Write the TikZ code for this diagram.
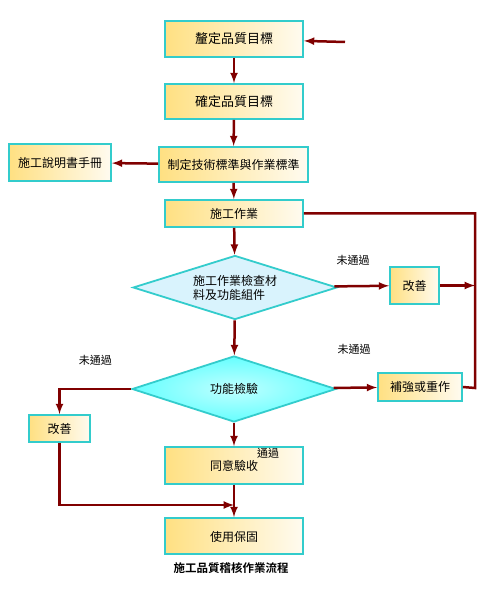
\documentclass[tikz,border=0pt]{standalone}
\usepackage{fontspec}
\setmainfont{Noto Sans CJK TC}[BoldFont={Noto Sans CJK TC Bold}]
\usepackage{tikz}
\usetikzlibrary{shapes.geometric}
\definecolor{flowred}{RGB}{128, 0, 0}
\definecolor{boxcyan}{RGB}{51, 204, 204}
\definecolor{boxyellow}{RGB}{255, 224, 130}
\definecolor{boxpale}{RGB}{255, 251, 240}

\begin{document}
\begin{tikzpicture}[
        x=1pt, y=-1pt,
        font=\fontsize{12}{14}\selectfont,
        box/.style={draw=boxcyan, line width=1.8pt, left color=boxyellow, right color=boxpale, minimum width=138pt, minimum height=36pt, inner sep=2pt},
        check/.style={diamond, draw=boxcyan, line width=1.8pt, shape aspect=3.2, inner sep=0pt, minimum width=204pt, minimum height=64pt},
        arrow/.style={-latex, line width=2.5pt, flowred},
        line/.style={line width=2.5pt, flowred},
        note/.style={text=black, font=\fontsize{11}{13}\selectfont}
    ]
        \useasboundingbox (0,0) rectangle (480,593);

        \node[box, font=\fontsize{13}{15}\selectfont] (goal) at (234,39) {釐定品質目標};
        \node[box, minimum height=35pt, font=\fontsize{13}{15}\selectfont] (confirm) at (234,101.5) {確定品質目標};
        \node[box, minimum width=149pt, minimum height=35pt] (standard) at (233.5,164.5) {制定技術標準與作業標準};
        \node[box, minimum width=102pt, minimum height=37pt] (manual) at (60,162.5) {施工說明書手冊};
        \node[box, minimum height=27pt] (work) at (234,213.5) {施工作業};
        \node[check, fill=cyan!15, align=left] (inspect) at (235,287.5) {施工作業檢查材\\料及功能組件};
        \node[box, minimum width=49pt, minimum height=37pt] (fixa) at (414.5,285.5) {改善};
        \node[check, inner color=cyan!25, outer color=cyan!60, minimum height=66pt] (test) at (234,389) {功能檢驗};
        \node[box, minimum width=84pt, minimum height=28pt] (redo) at (420,387) {補強或重作};
        \node[box, minimum width=61pt, minimum height=27pt] (fixb) at (59.5,428.5) {改善};
        \node[box, minimum height=37pt, text depth=-8pt] (accept) at (234,465.5) {同意驗收};
        \node[box, text depth=-6pt] (warranty) at (234,536) {使用保固};
        \node[font=\fontsize{11.5}{13}\selectfont\bfseries] (title) at (231,568) {施工品質稽核作業流程};

        \coordinate (start) at (345,42);
        \coordinate (back) at (475,388);
        \coordinate (merge) at (234,505);

        \draw[arrow] (start) -- (goal);
        \draw[arrow] (goal) -- (confirm);
        \draw[arrow] (confirm) -- (standard);
        \draw[arrow] (standard) -- (manual);
        \draw[arrow] (standard) -- (work);
        \draw[arrow] (work) -- (inspect);
        \draw[arrow] (inspect) -- node[note, pos=0.34, yshift=26pt] {未通過} (fixa);
        \draw[arrow] (fixa.east) -- (fixa.east -| back);
        \draw[line] (work.east) -| (back) -- (redo.east);
        \draw[arrow] (inspect) -- (test);
        \draw[arrow] (test) -- node[note, pos=0.47, yshift=38pt] {未通過} (redo);
        \draw[arrow] (test.west) -| node[note, pos=0.25, yshift=29pt] {未通過} (fixb.north);
        \draw[arrow] (test) -- node[note, pos=1, xshift=34pt, yshift=-7pt] {通過} (accept);
        \draw[arrow] (fixb.south) |- (merge);
        \draw[arrow] (accept) -- (warranty);
    \end{tikzpicture}
\end{document}
